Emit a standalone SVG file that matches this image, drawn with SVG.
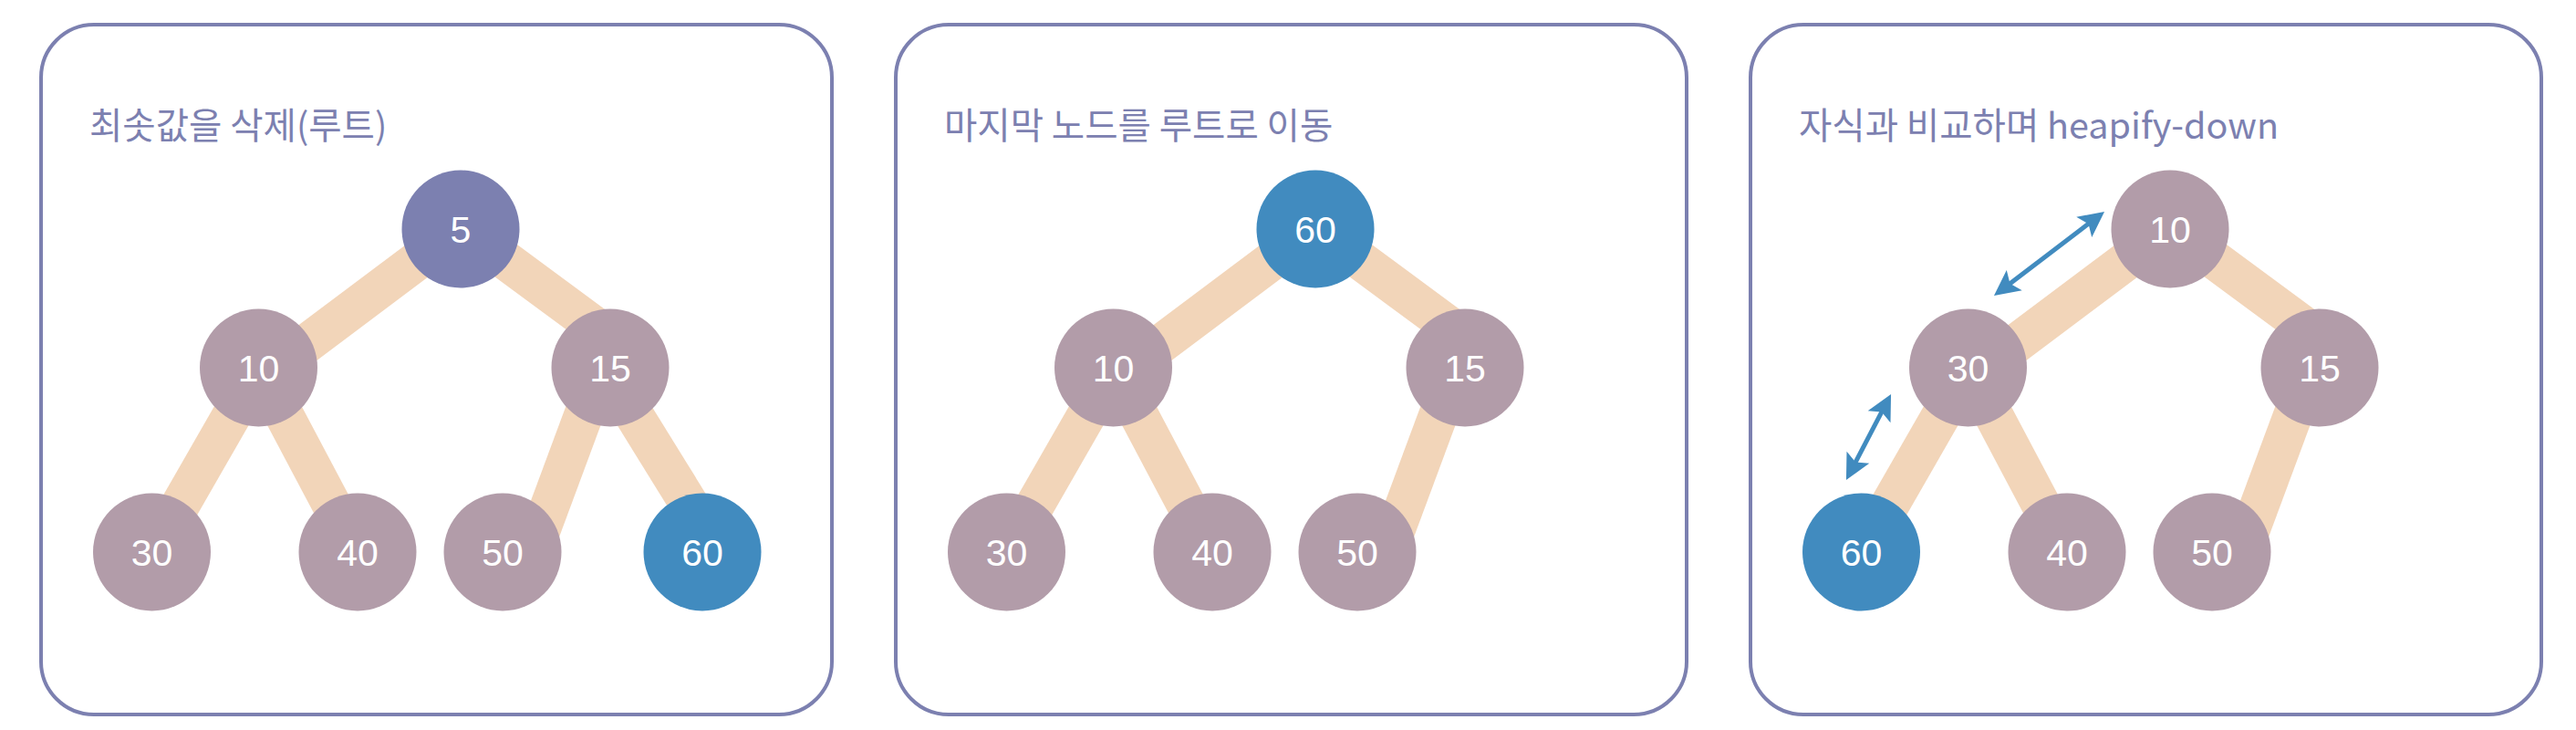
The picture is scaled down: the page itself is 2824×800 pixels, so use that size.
<svg xmlns="http://www.w3.org/2000/svg" width="2824" height="800" viewBox="0 0 2824 800">
<style>
.panel{fill:#ffffff;stroke:#7c80b0;stroke-width:4}
.title{font-family:"Noto Sans CJK KR","Noto Sans",sans-serif;font-size:39.5px;fill:#7c80b0}
.edge{stroke:#f2d5b9;stroke-width:43;fill:none}
.n{fill:#b29ca9}
.b{fill:#418bbf}
.r{fill:#7c80b0}
.lbl{font-family:"Liberation Sans",Arial,sans-serif;font-size:41px;fill:#ffffff;text-anchor:middle}
.arr{stroke:#418bbf;stroke-width:5;fill:none;marker-start:url(#ah);marker-end:url(#ah)}
</style>
<defs>
<marker id="ah" markerUnits="userSpaceOnUse" orient="auto-start-reverse" refX="0" refY="0" markerWidth="60" markerHeight="60" viewBox="-30 -30 60 60" overflow="visible">
<path d="M20,0 L-8,-14 L-2,0 L-8,14 Z" fill="#418bbf"/>
</marker>
</defs>
<rect id="panel1" class="panel" x="45" y="27" width="867" height="756" rx="58" ry="58"/>
<rect id="panel2" class="panel" x="982" y="27" width="867" height="756" rx="58" ry="58"/>
<rect id="panel3" class="panel" x="1919" y="27" width="867" height="756" rx="58" ry="58"/>
<text id="title1" class="title" x="98" y="152">최솟값을 삭제(루트)</text>
<text id="title2" class="title" x="1035" y="152">마지막 노드를 루트로 이동</text>
<text id="title3" class="title" x="1972" y="152">자식과 비교하며 heapify-down</text>
<g id="connectors">
<line class="edge" x1="505" y1="250" x2="283.5" y2="416"/>
<line class="edge" x1="505" y1="249" x2="669" y2="370"/>
<line class="edge" x1="284" y1="403" x2="168" y2="605"/>
<line class="edge" x1="284" y1="403" x2="391" y2="605"/>
<line class="edge" x1="659" y1="403" x2="584" y2="605"/>
<line class="edge" x1="663" y1="403" x2="788" y2="605"/>
<line class="edge" x1="1442" y1="250" x2="1220.5" y2="416"/>
<line class="edge" x1="1442" y1="249" x2="1606" y2="370"/>
<line class="edge" x1="1221" y1="403" x2="1105" y2="605"/>
<line class="edge" x1="1221" y1="403" x2="1328" y2="605"/>
<line class="edge" x1="1596" y1="403" x2="1521" y2="605"/>
<line class="edge" x1="2379" y1="250" x2="2157.5" y2="416"/>
<line class="edge" x1="2379" y1="249" x2="2543" y2="370"/>
<line class="edge" x1="2158" y1="403" x2="2042" y2="605"/>
<line class="edge" x1="2158" y1="403" x2="2265" y2="605"/>
<line class="edge" x1="2533" y1="403" x2="2458" y2="605"/>
<line class="arr" x1="2201.9" y1="311.9" x2="2291.1" y2="244.1"/>
<line class="arr" x1="2033.2" y1="508.3" x2="2063.8" y2="449.7"/>
</g>
<g id="p1n5"><circle class="r" cx="505" cy="251" r="64.5"/><text class="lbl" x="505" y="266">5</text></g>
<g id="p1n10"><circle class="n" cx="283.5" cy="403" r="64.5"/><text class="lbl" x="283.5" y="418">10</text></g>
<g id="p1n15"><circle class="n" cx="669" cy="403" r="64.5"/><text class="lbl" x="669" y="418">15</text></g>
<g id="p1n30"><circle class="n" cx="166.5" cy="605" r="64.5"/><text class="lbl" x="166.5" y="620">30</text></g>
<g id="p1n40"><circle class="n" cx="392" cy="605" r="64.5"/><text class="lbl" x="392" y="620">40</text></g>
<g id="p1n50"><circle class="n" cx="551" cy="605" r="64.5"/><text class="lbl" x="551" y="620">50</text></g>
<g id="p1n60"><circle class="b" cx="770" cy="605" r="64.5"/><text class="lbl" x="770" y="620">60</text></g>
<g id="p2n60"><circle class="b" cx="1442" cy="251" r="64.5"/><text class="lbl" x="1442" y="266">60</text></g>
<g id="p2n10"><circle class="n" cx="1220.5" cy="403" r="64.5"/><text class="lbl" x="1220.5" y="418">10</text></g>
<g id="p2n15"><circle class="n" cx="1606" cy="403" r="64.5"/><text class="lbl" x="1606" y="418">15</text></g>
<g id="p2n30"><circle class="n" cx="1103.5" cy="605" r="64.5"/><text class="lbl" x="1103.5" y="620">30</text></g>
<g id="p2n40"><circle class="n" cx="1329" cy="605" r="64.5"/><text class="lbl" x="1329" y="620">40</text></g>
<g id="p2n50"><circle class="n" cx="1488" cy="605" r="64.5"/><text class="lbl" x="1488" y="620">50</text></g>
<g id="p3n10"><circle class="n" cx="2379" cy="251" r="64.5"/><text class="lbl" x="2379" y="266">10</text></g>
<g id="p3n30"><circle class="n" cx="2157.5" cy="403" r="64.5"/><text class="lbl" x="2157.5" y="418">30</text></g>
<g id="p3n15"><circle class="n" cx="2543" cy="403" r="64.5"/><text class="lbl" x="2543" y="418">15</text></g>
<g id="p3n60"><circle class="b" cx="2040.5" cy="605" r="64.5"/><text class="lbl" x="2040.5" y="620">60</text></g>
<g id="p3n40"><circle class="n" cx="2266" cy="605" r="64.5"/><text class="lbl" x="2266" y="620">40</text></g>
<g id="p3n50"><circle class="n" cx="2425" cy="605" r="64.5"/><text class="lbl" x="2425" y="620">50</text></g>
</svg>
